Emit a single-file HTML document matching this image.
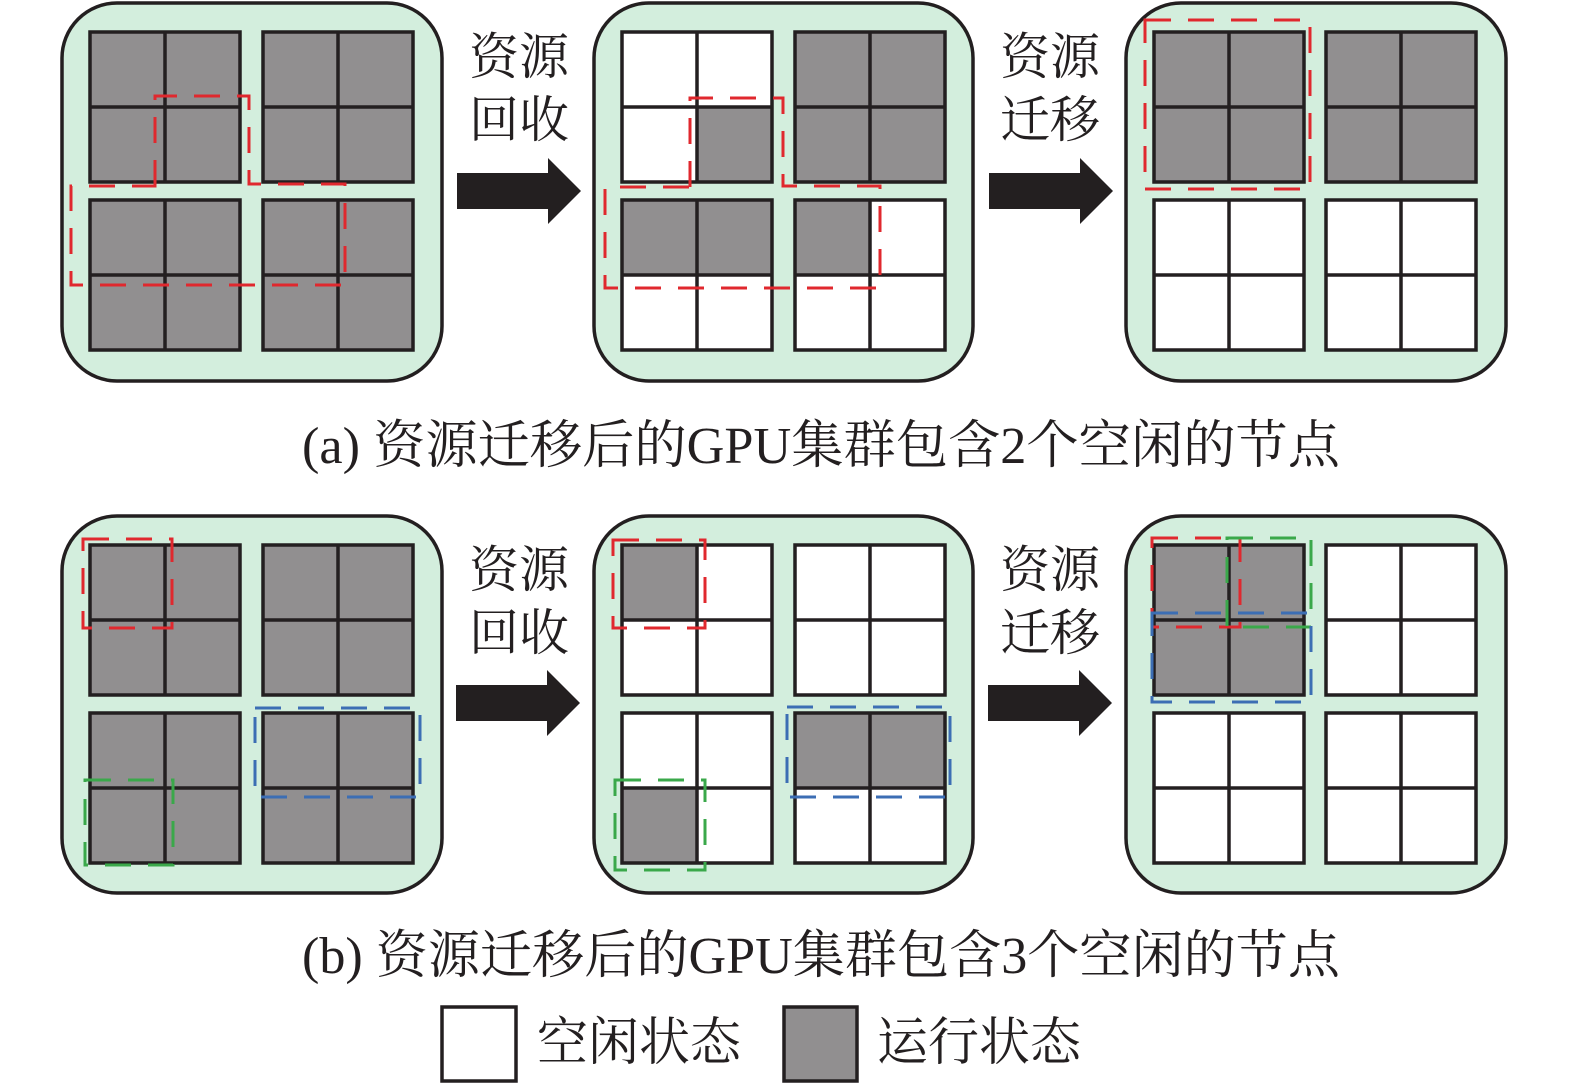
<!DOCTYPE html>
<html><head><meta charset="utf-8"><style>
html,body{margin:0;padding:0;background:#fff;}
svg{display:block}
text{font-family:"Liberation Serif","Noto Serif CJK SC",serif;fill:#231f20}
</style></head><body>
<svg width="1575" height="1088" viewBox="0 0 1575 1088" xmlns="http://www.w3.org/2000/svg">
<defs>
<g id="grid"><path d="M0 0h150v150h-150z M75 0v150 M0 75h150" fill="none" stroke="#231f20" stroke-width="3.5"/></g>
<rect id="w" width="150" height="150" fill="#fff"/>
<rect id="g" width="150" height="150" fill="#918f90"/>
<rect id="c" width="75" height="75" fill="#918f90"/>
<g id="arrow"><path d="M0 13h91v-15l33 33-33 33v-15h-91z" fill="#231f20"/></g>
</defs>
<g fill="#d3eedd" stroke="#231f20" stroke-width="3.5">
<rect x="62" y="3" width="380" height="378" rx="55"/>
<rect x="594" y="3" width="379" height="378" rx="55"/>
<rect x="1126" y="3" width="380" height="378" rx="55"/>
<rect x="62" y="516" width="380" height="377" rx="55"/>
<rect x="594" y="516" width="379" height="377" rx="55"/>
<rect x="1126" y="516" width="380" height="377" rx="55"/>
</g>
<use href="#g" x="90" y="32"/><use href="#g" x="263" y="32"/><use href="#g" x="90" y="200"/><use href="#g" x="263" y="200"/>
<use href="#grid" x="90" y="32"/><use href="#grid" x="263" y="32"/><use href="#grid" x="90" y="200"/><use href="#grid" x="263" y="200"/>
<use href="#w" x="622" y="32"/><use href="#c" x="697" y="107"/><use href="#g" x="795" y="32"/>
<use href="#w" x="622" y="200"/><use href="#c" x="622" y="200"/><use href="#c" x="697" y="200"/>
<use href="#w" x="795" y="200"/><use href="#c" x="795" y="200"/>
<use href="#grid" x="622" y="32"/><use href="#grid" x="795" y="32"/><use href="#grid" x="622" y="200"/><use href="#grid" x="795" y="200"/>
<use href="#g" x="1154" y="32"/><use href="#g" x="1326" y="32"/><use href="#w" x="1154" y="200"/><use href="#w" x="1326" y="200"/>
<use href="#grid" x="1154" y="32"/><use href="#grid" x="1326" y="32"/><use href="#grid" x="1154" y="200"/><use href="#grid" x="1326" y="200"/>
<use href="#g" x="90" y="545"/><use href="#g" x="263" y="545"/><use href="#g" x="90" y="713"/><use href="#g" x="263" y="713"/>
<use href="#grid" x="90" y="545"/><use href="#grid" x="263" y="545"/><use href="#grid" x="90" y="713"/><use href="#grid" x="263" y="713"/>
<use href="#w" x="622" y="545"/><use href="#c" x="622" y="545"/><use href="#w" x="795" y="545"/>
<use href="#w" x="622" y="713"/><use href="#c" x="622" y="788"/>
<use href="#w" x="795" y="713"/><use href="#c" x="795" y="713"/><use href="#c" x="870" y="713"/>
<use href="#grid" x="622" y="545"/><use href="#grid" x="795" y="545"/><use href="#grid" x="622" y="713"/><use href="#grid" x="795" y="713"/>
<use href="#g" x="1154" y="545"/><use href="#w" x="1326" y="545"/><use href="#w" x="1154" y="713"/><use href="#w" x="1326" y="713"/>
<use href="#grid" x="1154" y="545"/><use href="#grid" x="1326" y="545"/><use href="#grid" x="1154" y="713"/><use href="#grid" x="1326" y="713"/>
<g fill="none" stroke-width="3" stroke-dasharray="26 17">
<path d="M155 186V96H249V184H345V285H71V186Z" stroke="#e0282e"/>
<path d="M690 187V98H783V186H880V288H605V187Z" stroke="#e0282e"/>
<rect x="1145" y="20" width="165" height="169" stroke="#e0282e"/>
<rect x="83" y="539" width="89" height="89" stroke="#e0282e"/>
<rect x="85" y="780" width="88" height="85" stroke="#3aa84a"/>
<rect x="255" y="708" width="165" height="89" stroke="#3c6eb4"/>
<rect x="613" y="540" width="92" height="88" stroke="#e0282e"/>
<rect x="615" y="780" width="90" height="90" stroke="#3aa84a"/>
<rect x="787" y="707" width="163" height="90" stroke="#3c6eb4"/>
<rect x="1152" y="538" width="88" height="89" stroke="#e0282e"/>
<rect x="1227" y="538" width="84" height="89" stroke="#3aa84a"/>
<rect x="1152" y="613" width="159" height="89" stroke="#3c6eb4"/>
</g>
<use href="#arrow" x="457" y="160"/><use href="#arrow" x="989" y="160"/>
<use href="#arrow" x="456" y="672"/><use href="#arrow" x="988" y="672"/>
<g font-size="50">
<text x="469" y="74">资源</text><text x="469" y="137">回收</text>
<text x="1000" y="74">资源</text><text x="1000" y="137">迁移</text>
<text x="469" y="587">资源</text><text x="469" y="650">回收</text>
<text x="1000" y="587">资源</text><text x="1000" y="650">迁移</text>
</g>
<g font-size="52">
<text x="302" y="463" textLength="1038" lengthAdjust="spacingAndGlyphs">(a)  资源迁移后的GPU集群包含2个空闲的节点</text>
<text x="302" y="973" textLength="1038" lengthAdjust="spacingAndGlyphs">(b)  资源迁移后的GPU集群包含3个空闲的节点</text>
<text x="537" y="1060" textLength="204" lengthAdjust="spacingAndGlyphs">空闲状态</text>
<text x="877" y="1060" textLength="204" lengthAdjust="spacingAndGlyphs">运行状态</text>
</g>
<rect x="442" y="1007" width="74" height="74" fill="#fff" stroke="#231f20" stroke-width="3.5"/>
<rect x="784" y="1007" width="73" height="74" fill="#918f90" stroke="#231f20" stroke-width="3.5"/>
</svg>
</body></html>
